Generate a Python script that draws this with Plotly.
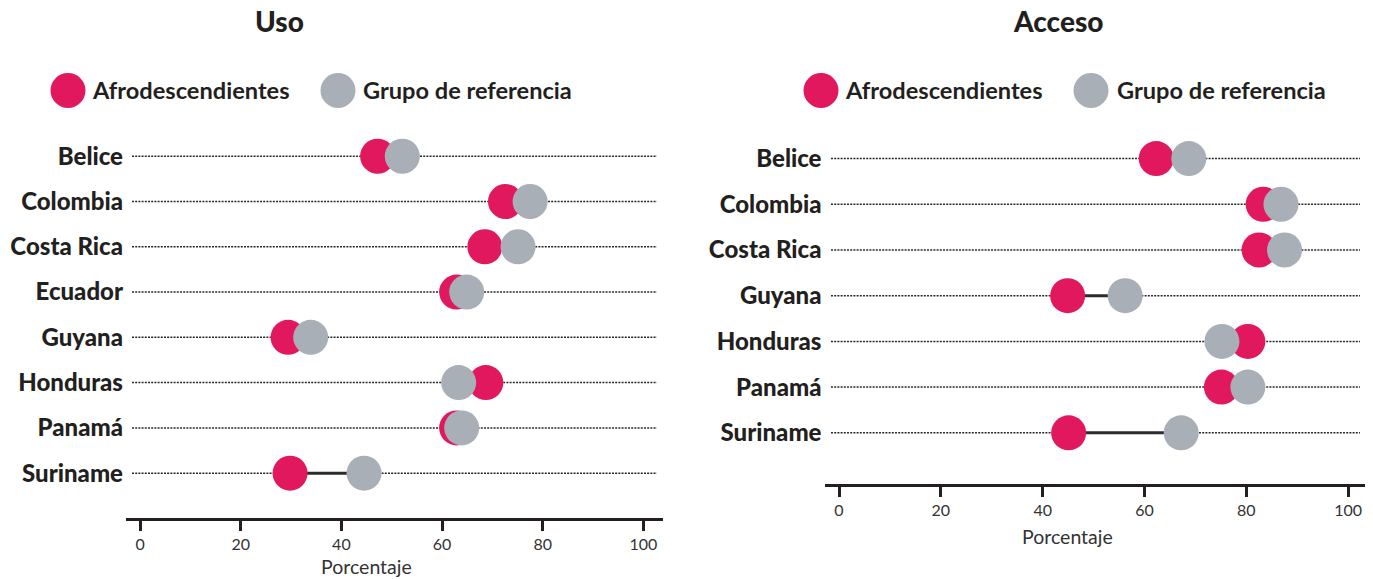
import plotly.graph_objects as go

# ---------------- data ----------------
uso_countries = ["Belice", "Colombia", "Costa Rica", "Ecuador", "Guyana", "Honduras", "Panamá", "Suriname"]
uso_afro = [47.2, 72.6, 68.5, 62.9, 29.4, 68.7, 62.9, 29.8]
uso_ref = [52.1, 77.5, 75.1, 64.9, 33.9, 63.3, 63.9, 44.5]

acc_countries = ["Belice", "Colombia", "Costa Rica", "Guyana", "Honduras", "Panamá", "Suriname"]
acc_afro = [62.3, 83.3, 82.5, 44.9, 80.3, 75.1, 45.1]
acc_ref = [68.7, 86.8, 87.5, 56.2, 75.2, 80.3, 67.2]

x_ticks = [0, 20, 40, 60, 80, 100]
series_names = ["Afrodescendientes", "Grupo de referencia"]
panel_titles = ["Uso", "Acceso"]
axis_title = "Porcentaje"

# ---------------- style ----------------
W, H = 1373, 579
PINK = "#E2185F"
GREY = "#A9AFB7"
TXT = "#231F20"
FONT = "Lato"
MSIZE = 35


def px(x):
    return x / W


def py(y):
    return 1 - y / H


fig = go.Figure()


def add_panel(countries, afro, ref, xa, ya):
    idx = list(range(len(countries)))
    cx, cy = [], []
    for i, a, r in zip(idx, afro, ref):
        cx += [a, r, None]
        cy += [i, i, None]
    fig.add_trace(go.Scatter(x=cx, y=cy, mode="lines", line=dict(color="#2b2b2b", width=3),
                             xaxis=xa, yaxis=ya, showlegend=False, hoverinfo="skip"))
    fig.add_trace(go.Scatter(x=afro, y=idx, mode="markers", name=series_names[0],
                             marker=dict(color=PINK, size=MSIZE, line=dict(width=0)),
                             xaxis=xa, yaxis=ya, showlegend=False))
    fig.add_trace(go.Scatter(x=ref, y=idx, mode="markers", name=series_names[1],
                             marker=dict(color=GREY, size=MSIZE, line=dict(width=0)),
                             xaxis=xa, yaxis=ya, showlegend=False))


add_panel(uso_countries, uso_afro, uso_ref, "x", "y")
add_panel(acc_countries, acc_afro, acc_ref, "x2", "y2")

xaxis_common = dict(
    tickvals=x_ticks, ticktext=[str(t) for t in x_ticks],
    showgrid=False, zeroline=False, showline=True, linewidth=3, linecolor="#231F20",
    ticks="outside", ticklen=10, tickwidth=2.5, tickcolor="#231F20",
    tickfont=dict(family=FONT, size=16, color="#333333"),
    fixedrange=True,
)


def yaxis_common(countries, rng):
    return dict(
        tickvals=list(range(len(countries))), ticktext=countries, range=rng,
        showgrid=False, zeroline=False, showline=False, ticks="",
        tickfont=dict(family=FONT, size=24, color=TXT, weight=900),
        ticklabelstandoff=2, fixedrange=True,
    )


L_DOM = [126, 663]
R_DOM = [824.5, 1365]

fig.update_layout(
    width=W, height=H,
    margin=dict(l=0, r=0, t=0, b=0),
    paper_bgcolor="white", plot_bgcolor="white",
    showlegend=False,
    xaxis=dict(domain=[px(L_DOM[0]), px(L_DOM[1])], range=[-2.8, 103.9], anchor="y", **xaxis_common),
    yaxis=dict(domain=[py(518), py(120)], anchor="x", **yaxis_common(uso_countries, [7.99, -0.8])),
    xaxis2=dict(domain=[px(R_DOM[0]), px(R_DOM[1])], range=[-2.85, 103.3], anchor="y2", **xaxis_common),
    yaxis2=dict(domain=[py(484), py(122)], anchor="x2", **yaxis_common(acc_countries, [7.12, -0.8])),
)

annotations = []
shapes = []

# dotted guide lines for each country row (slightly inset from the axis ends)
for countries, xr, yr, dom, inset in [(uso_countries, "x domain", "y", L_DOM, (6, 6)),
                                      (acc_countries, "x2 domain", "y2", R_DOM, (6.5, 5))]:
    wdom = dom[1] - dom[0]
    for i in range(len(countries)):
        shapes.append(dict(type="line", xref=xr, yref=yr,
                           x0=inset[0] / wdom, x1=1 - inset[1] / wdom, y0=i, y1=i,
                           line=dict(color="#2a2a2a", width=1.5, dash="2px,1.2px"),
                           layer="below"))

# panel titles
for title, cx in zip(panel_titles, [279, 1058]):
    annotations.append(dict(text=title, x=px(cx), y=py(21), xref="paper", yref="paper",
                            xanchor="center", yanchor="middle", showarrow=False,
                            font=dict(family=FONT, size=28, color=TXT, weight=900)))

# x-axis titles
for cx, cy in [(366, 566), (1067, 536)]:
    annotations.append(dict(text=axis_title, x=px(cx), y=py(cy), xref="paper", yref="paper",
                            xanchor="center", yanchor="middle", showarrow=False,
                            font=dict(family=FONT, size=19.5, color="#333333")))

# legends (one per panel)
legend_pos = [  # (circle center x, text start x) per item, per panel
    [(68, 90), (338, 361)],
    [(821, 843), (1091, 1115)],
]
for panel in legend_pos:
    for (ccx, tx), name, col in zip(panel, series_names, [PINK, GREY]):
        shapes.append(dict(type="circle", xref="paper", yref="paper",
                           xsizemode="pixel", ysizemode="pixel",
                           xanchor=px(ccx), yanchor=py(90.5),
                           x0=-MSIZE / 2, x1=MSIZE / 2, y0=-MSIZE / 2, y1=MSIZE / 2,
                           fillcolor=col, line=dict(width=0)))
        annotations.append(dict(text=name, x=px(tx), y=py(90), xref="paper", yref="paper",
                                xanchor="left", yanchor="middle", showarrow=False,
                                font=dict(family=FONT, size=23.6, color=TXT, weight=700)))

fig.update_layout(annotations=annotations, shapes=shapes)

fig.write_html("out.html", config={"displayModeBar": False},
               post_script="document.body.style.margin='0px';")
